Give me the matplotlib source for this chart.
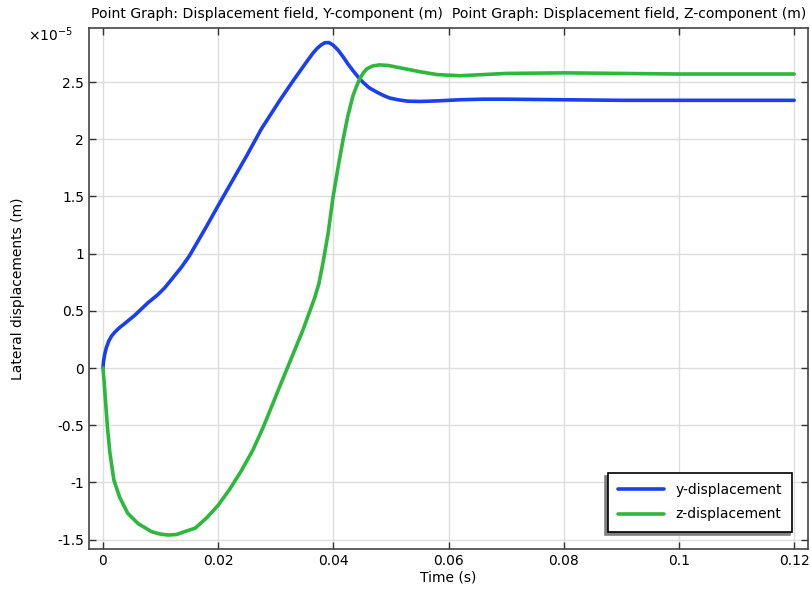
import matplotlib.pyplot as plt
from matplotlib.ticker import FuncFormatter

# time (s) and displacements (units of 1e-5 m)
t_y = [0, 0.0001, 0.0003, 0.0006, 0.001, 0.0015, 0.002, 0.0028, 0.0038,
       0.0055, 0.0078, 0.0095, 0.0107, 0.012, 0.0136, 0.015, 0.0165, 0.018,
       0.02, 0.0225, 0.025, 0.0275, 0.0307, 0.033, 0.0354, 0.0365, 0.0372,
       0.0379, 0.0385, 0.0392, 0.0399, 0.0408, 0.0417, 0.0425, 0.0434, 0.0442,
       0.0451, 0.0462, 0.0476, 0.0488, 0.0498, 0.0512, 0.0528, 0.055, 0.058,
       0.062, 0.066, 0.07, 0.08, 0.09, 0.1, 0.11, 0.12]
y_disp = [0, 0.06, 0.12, 0.18, 0.235, 0.28, 0.31, 0.35, 0.39,
          0.46, 0.57, 0.64, 0.70, 0.78, 0.88, 0.98, 1.11, 1.24,
          1.42, 1.64, 1.86, 2.09, 2.34, 2.51, 2.68, 2.755, 2.795,
          2.825, 2.843, 2.845, 2.825, 2.78, 2.72, 2.66, 2.60, 2.55,
          2.50, 2.45, 2.41, 2.38, 2.36, 2.345, 2.333, 2.33, 2.335,
          2.345, 2.35, 2.35, 2.345, 2.34, 2.34, 2.34, 2.34]

t_z = [0, 0.0002, 0.0004, 0.00075, 0.0012, 0.0019, 0.0029, 0.0043, 0.0061,
       0.0084, 0.0098, 0.0113, 0.0128, 0.0142, 0.016, 0.018, 0.02, 0.022,
       0.024, 0.026, 0.0278, 0.0295, 0.0307, 0.0316, 0.0325, 0.0347, 0.0368,
       0.0375, 0.0382, 0.0391, 0.0399, 0.0408, 0.0417, 0.0425, 0.0434, 0.044,
       0.0446, 0.0452, 0.0458, 0.0468, 0.048, 0.0495, 0.051, 0.053, 0.055,
       0.058, 0.062, 0.066, 0.07, 0.08, 0.09, 0.1, 0.11, 0.12]
z_disp = [0, -0.12, -0.26, -0.50, -0.74, -0.98, -1.13, -1.27, -1.36,
          -1.43, -1.45, -1.46, -1.455, -1.43, -1.40, -1.31, -1.20, -1.06,
          -0.90, -0.72, -0.52, -0.31, -0.16, -0.05, 0.06, 0.33, 0.62,
          0.74, 0.92, 1.18, 1.48, 1.75, 2.00, 2.20, 2.38, 2.46,
          2.53, 2.58, 2.615, 2.64, 2.65, 2.645, 2.63, 2.61, 2.59,
          2.565, 2.555, 2.565, 2.575, 2.58, 2.575, 2.57, 2.57, 2.57]

labels = ['y-displacement', 'z-displacement']
colors = ['#1a3ff0', '#2cb83c']

fig = plt.figure(figsize=(8.11, 5.90), dpi=100)
ax = fig.add_axes([0.1097, 0.0695, 0.8866, 0.883])

ax.plot(t_y, y_disp, color=colors[0], lw=2.6, label=labels[0],
        solid_joinstyle='round', solid_capstyle='round')
ax.plot(t_z, z_disp, color=colors[1], lw=2.6, label=labels[1],
        solid_joinstyle='round', solid_capstyle='round')

ax.set_xlim(-0.00243, 0.1224)
ax.set_ylim(-1.582, 2.972)
ax.set_xticks([0, 0.02, 0.04, 0.06, 0.08, 0.1, 0.12])
ax.set_yticks([-1.5, -1, -0.5, 0, 0.5, 1, 1.5, 2, 2.5])
fmt = FuncFormatter(lambda v, p: '%g' % round(v, 6))
ax.xaxis.set_major_formatter(fmt)
ax.yaxis.set_major_formatter(fmt)
ax.tick_params(direction='in', top=True, right=True, length=5, width=1,
               labelsize=10, color='#333333')
ax.grid(True, color='#dddddd', lw=1)
ax.set_axisbelow(True)
for s in ax.spines.values():
    s.set_color('#444444')
    s.set_linewidth(1.2)

ax.set_xlabel('Time (s)', fontsize=10, labelpad=2)
ax.set_ylabel('Lateral displacements (m)', fontsize=10, labelpad=23)
fig.text(0.5535, 0.977, 'Point Graph: Displacement field, Y-component (m)  '
         'Point Graph: Displacement field, Z-component (m)',
         ha='center', va='center', fontsize=10.1)
fig.text(0.035, 0.942, r'$\times10^{-5}$', ha='left', va='center', fontsize=10)

leg = ax.legend(loc='lower right', bbox_to_anchor=(0.978, 0.033), fontsize=10,
                fancybox=False, edgecolor='black', framealpha=1,
                borderaxespad=0,
                shadow={'ox': -1.8, 'oy': -2.6, 'color': '#808080', 'alpha': 1},
                handlelength=3.3, borderpad=0.75, labelspacing=0.75)
leg.get_frame().set_linewidth(1.2)

fig.savefig('out.png', dpi=100)
